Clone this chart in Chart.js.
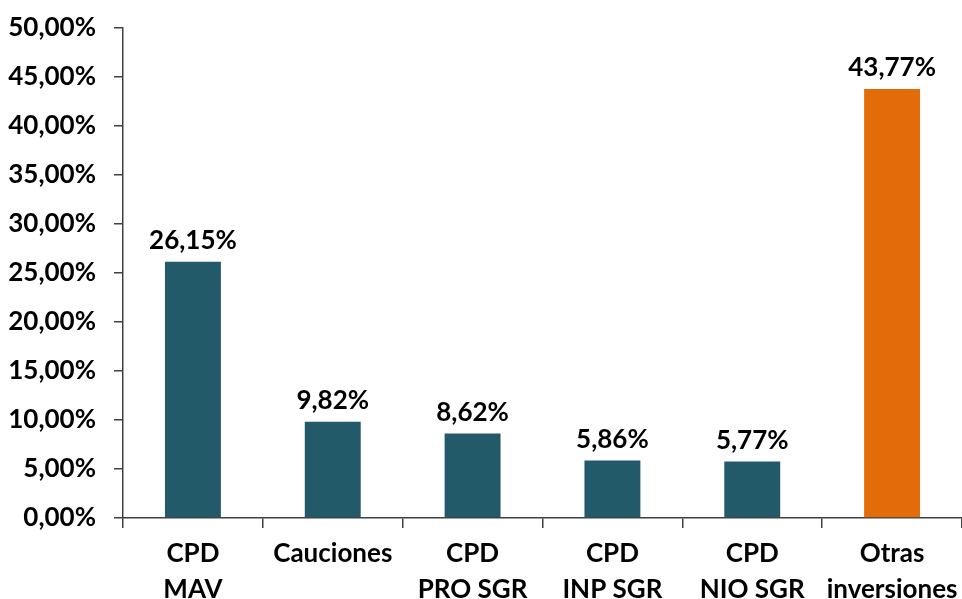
<!DOCTYPE html>
<html><head><meta charset="utf-8">
<script src="https://cdn.jsdelivr.net/npm/chart.js@4/dist/chart.umd.min.js"></script>
<style>html,body{margin:0;padding:0;background:#fff}#wrap{width:962px;height:599px}</style>
</head><body><div id="wrap"><canvas id="c" width="962" height="599"></canvas></div>
<script>
const categories = [["CPD","MAV"], "Cauciones", ["CPD","PRO SGR"], ["CPD","INP SGR"], ["CPD","NIO SGR"], ["Otras","inversiones"]];
const values = [26.15, 9.82, 8.62, 5.86, 5.77, 43.77];
const barColors = ["#235A69","#235A69","#235A69","#235A69","#235A69","#E36C0A"];
const yMin = 0, yMax = 50, yStep = 5;

const fmt = v => v.toFixed(2).replace('.', ',') + '%';
const FONT = 'Lato';

const labelPlugin = {
  id: 'vlabels',
  afterDatasetsDraw(chart) {
    const ctx = chart.ctx;
    const meta = chart.getDatasetMeta(0);
    ctx.save();
    ctx.font = 'bold 26px ' + FONT;
    ctx.fillStyle = '#000';
    ctx.textAlign = 'center';
    ctx.textBaseline = 'bottom';
    meta.data.forEach((el, i) => {
      ctx.fillText(fmt(values[i]), el.x, el.y - 8);
    });
    ctx.restore();
  }
};

new Chart(document.getElementById('c'), {
  type: 'bar',
  data: {
    labels: categories,
    datasets: [{ data: values, backgroundColor: barColors, borderWidth: 0, barPercentage: 0.4, categoryPercentage: 1.0 }]
  },
  options: {
    responsive: false,
    animation: false,
    layout: { padding: { top: 28, right: 0, left: 0, bottom: 0 } },
    plugins: { legend: { display: false }, tooltip: { enabled: false } },
    scales: {
      x: {
        grid: { display: true, drawOnChartArea: false, drawTicks: true, tickLength: 10, color: '#404040', lineWidth: 1.5, offset: true },
        border: { display: true, color: '#404040', width: 1.5 },
        ticks: { color: '#000', font: { family: FONT, weight: 'bold', size: 26, lineHeight: 1.38 }, padding: 8, maxRotation: 0, autoSkip: false },
        afterFit: s => { s.height = 81; s.paddingLeft = 0; s.paddingRight = 0; }
      },
      y: {
        min: yMin, max: yMax,
        grid: { display: true, drawOnChartArea: false, drawTicks: true, tickLength: 9, color: '#404040', lineWidth: 1.5 },
        border: { display: true, color: '#404040', width: 1.5 },
        ticks: { stepSize: yStep, color: '#000', font: { family: FONT, weight: 'bold', size: 26 }, padding: 18, callback: v => fmt(v) },
        afterFit: s => { s.width = 123; s.paddingTop = 0; s.paddingBottom = 0; }
      }
    }
  },
  plugins: [labelPlugin]
});
</script></body></html>
